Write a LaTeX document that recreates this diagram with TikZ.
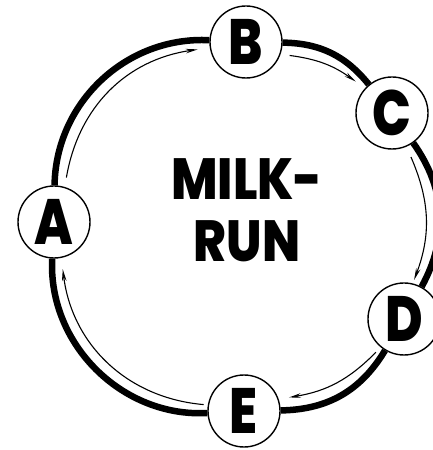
\documentclass[tikz,border=0pt]{standalone}
\usepackage{fontspec}
\newfontfamily\pop{Poppins ExtraBold}
\usetikzlibrary{arrows.meta,calc,backgrounds}
\begin{document}
\begin{tikzpicture}[x=1pt,y=1pt,
  stop/.style={circle,draw,line width=1.4pt,fill=white,minimum size=72pt,inner sep=0pt,
    font=\pop\fontsize{64}{64}\selectfont},
  route/.style={line width=6.5pt},
  flow/.style={line width=1.1pt,-{Stealth[length=12pt,width=4.5pt]}},
  title/.style={align=center,font=\pop\fontsize{58}{62}\selectfont},
]
\useasboundingbox (0,0) rectangle (433,450);
\coordinate (O) at (232,220);
\node[stop] (A) at (54,228) {\scalebox{0.8}[1]{A}};
\node[stop] (B) at (246,408) {\scalebox{0.8}[1]{B}};
\node[stop] (C) at (392,337) {\scalebox{0.8}[1]{C}};
\node[stop] (D) at (404,131) {\scalebox{0.8}[1]{D}};
\node[stop] (E) at (244,39) {\scalebox{0.8}[1]{E}};
\node[title] (T) at (247,240) {\scalebox{0.86}[1]{MILK-}\\\scalebox{0.86}[1]{RUN}};
\begin{scope}[on background layer]
\draw[route] (A) to[bend left=46] (B);
\draw[route] (B) to[bend left=25] (C);
\draw[route] (C) to[bend left=32] (D);
\draw[route] (D) to[bend left=29] (E);
\draw[route] (E) to[bend left=48] (A);
\end{scope}
\draw[flow] ($(O)!0.975!-15:(A)$) to[bend left=36] ($(O)!0.975!15:(B)$);
\draw[flow] ($(O)!0.975!-14:(B)$) to[bend left=14] ($(O)!0.975!14:(C)$);
\draw[flow] ($(O)!0.975!-14:(C)$) to[bend left=22] ($(O)!0.975!12:(D)$);
\draw[flow] ($(O)!0.975!-13:(D)$) to[bend left=18] ($(O)!0.975!15:(E)$);
\draw[flow] ($(O)!0.975!-13:(E)$) to[bend left=39] ($(O)!0.975!15.6:(A)$);
\end{tikzpicture}
\end{document}
